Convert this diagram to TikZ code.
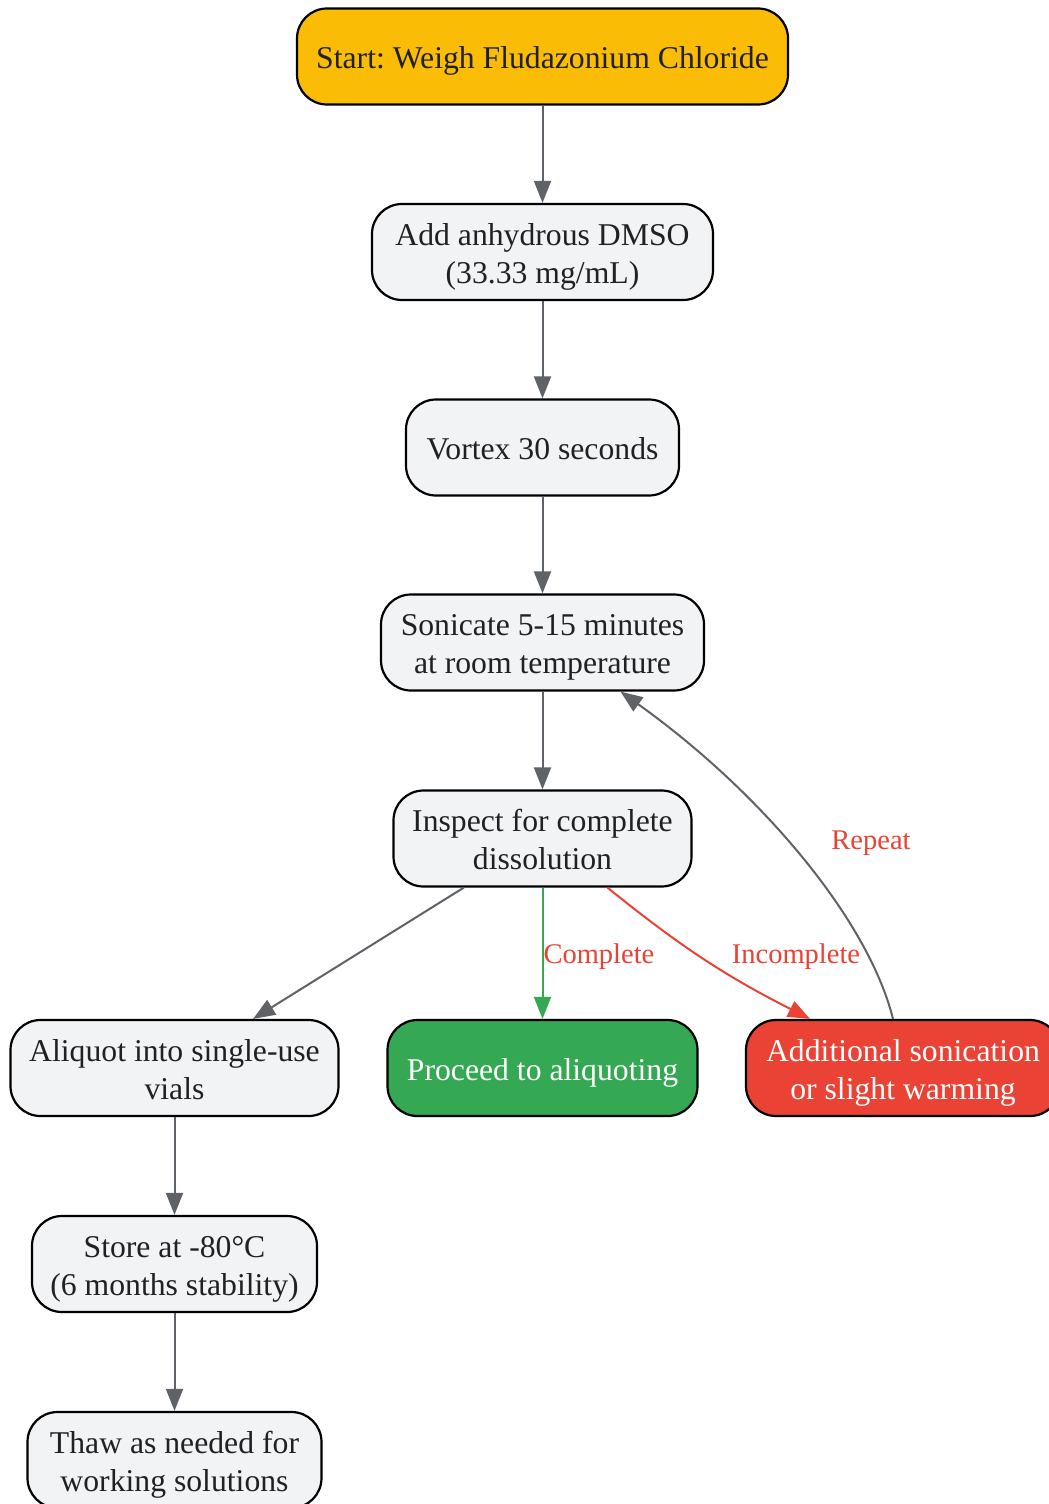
\documentclass[tikz,border=0pt]{standalone}
\usepackage{fontspec}
\setmainfont{Liberation Serif}
\usetikzlibrary{arrows.meta}
\definecolor{nodefill}{HTML}{F1F3F4}
\definecolor{txt}{HTML}{202124}
\definecolor{edgegray}{HTML}{5F6368}
\definecolor{gyellow}{HTML}{FBBC05}
\definecolor{ggreen}{HTML}{34A853}
\definecolor{gred}{HTML}{EA4335}
\newcommand{\boxlines}[1]{\raisebox{0pt}[\dimexpr\height+9pt\relax][\depth]{\begin{tabular}{@{}c@{}}#1\end{tabular}}}
\frenchspacing
\begin{document}
\begin{tikzpicture}[x=1pt,y=-1pt,
  box/.style={rectangle, rounded corners=30pt, draw=black, line width=2.2pt, fill=nodefill, text=txt, inner sep=0pt, minimum height=96pt, font=\fontsize{31.7}{38}\selectfont},
  conn/.style={draw=edgegray, line width=2pt, -{Triangle[length=22pt,width=17pt]}},
  lbl/.style={text=gred, font=\fontsize{28.5}{34}\selectfont, inner sep=0pt}]
\useasboundingbox[fill=white] (0,0) rectangle (1049,1504);
\node[box, fill=gyellow, minimum width=491pt] (start) at (542.5,56.5) {\boxlines{Start: Weigh Fludazonium Chloride}};
\node[box, minimum width=341pt] (add) at (542.5,252) {\boxlines{Add anhydrous DMSO\\(33.33 mg/mL)}};
\node[box, minimum width=273pt] (vortex) at (542.5,447.5) {\boxlines{Vortex 30 seconds}};
\node[box, minimum width=323pt] (sonicate) at (542.5,642.5) {\boxlines{Sonicate 5-15 minutes\\at room temperature}};
\node[box, minimum width=298pt] (inspect) at (542.5,838.5) {\boxlines{Inspect for complete\\dissolution}};
\node[box, minimum width=328pt] (aliquot) at (174.5,1068) {\boxlines{Aliquot into single-use\\vials}};
\node[box, fill=ggreen, text=white, minimum width=310pt] (proceed) at (542.5,1068) {\boxlines{Proceed to aliquoting}};
\node[box, fill=gred, text=white, minimum width=314pt] (additional) at (903,1068) {\boxlines{Additional sonication\\or slight warming}};
\node[box, minimum width=285pt] (store) at (174.5,1264) {\boxlines{Store at -80°C\\(6 months stability)}};
\node[box, minimum width=294pt] (thaw) at (174.5,1460) {\boxlines{Thaw as needed for\\working solutions}};

\draw[conn] (start) -- (add);
\draw[conn] (add) -- (vortex);
\draw[conn] (vortex) -- (sonicate);
\draw[conn] (sonicate) -- (inspect);
\draw[conn] (inspect) -- (aliquot);
\draw[conn, draw=ggreen, -{Triangle[length=22pt,width=17pt,fill=ggreen]}] (inspect) -- (proceed)
  node[lbl, pos=0.5, anchor=west, xshift=0pt, yshift=-3pt] (lblcomp) {Complete};
\draw[conn, draw=gred, -{Triangle[length=22pt,width=17pt,fill=gred]}] ([xshift=65pt]inspect.south) to[bend right=6] ([xshift=-93pt]additional.north);
\node[lbl] (lblinc) at (796,957) {Incomplete};
\draw[conn] ([xshift=-10pt]additional.north) .. controls +(-25,-100) and +(140,100) .. ([xshift=78pt]sonicate.south);
\node[lbl] (lblrep) at (871,843) {Repeat};
\draw[conn] (store) -- (thaw);
\draw[conn] (aliquot) -- (store);
\end{tikzpicture}
\end{document}
